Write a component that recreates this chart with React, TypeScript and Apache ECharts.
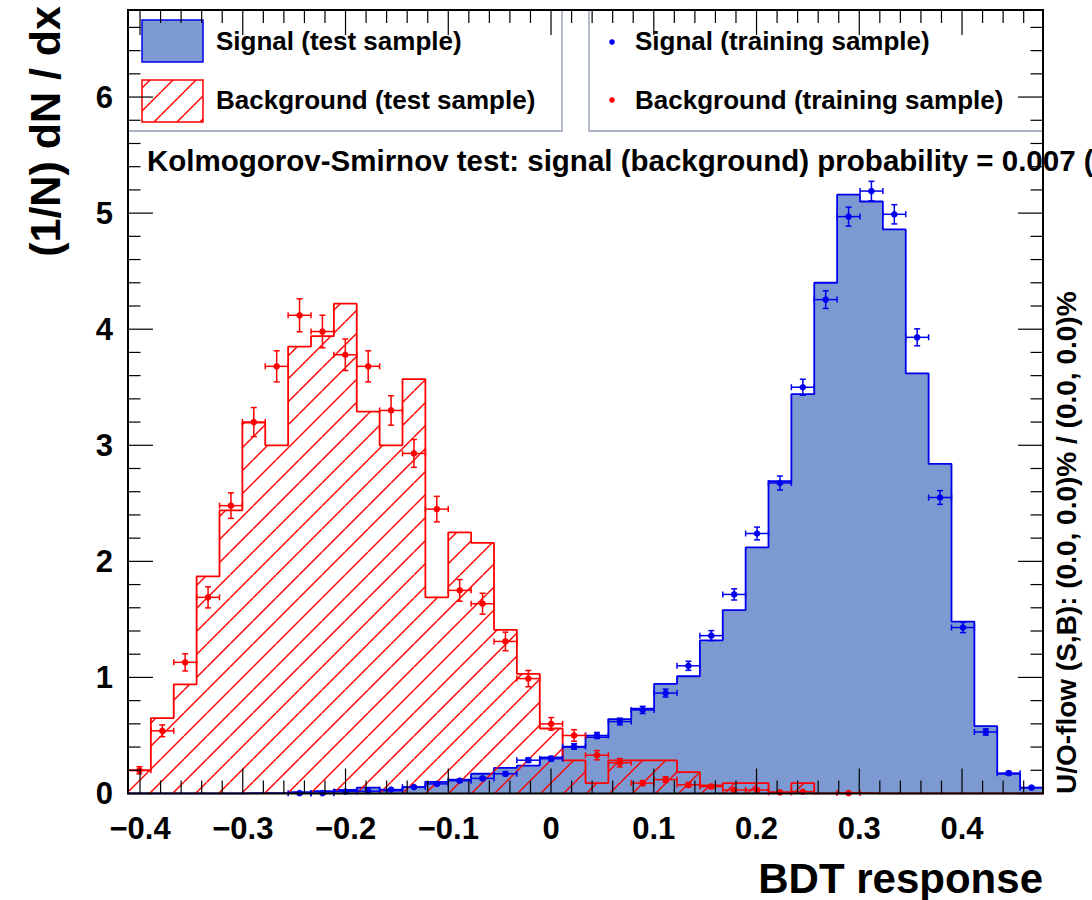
import React, { useEffect, useRef } from "react";
import * as echarts from "echarts";

// ---- axis ranges / binning ----
const X_MIN = -0.4117;
const X_MAX = 0.4788;
const N_BINS = 40;
const Y_MAX = 6.75;

// ---- histogram contents (40 bins) ----
const signalTest = [
  0, 0, 0, 0, 0,
  0.004, 0.004, 0.012, 0.02, 0.03,
  0.05, 0.026, 0.055, 0.10, 0.12,
  0.17, 0.22, 0.24, 0.31, 0.40,
  0.485, 0.64, 0.73, 0.945, 1.01,
  1.32, 1.58, 2.12, 2.69, 3.44,
  4.40, 5.16, 5.10, 4.86, 3.62,
  2.84, 1.48, 0.58, 0.17, 0.05,
];
const backgroundTest = [
  0.2, 0.65, 0.94, 1.87, 2.44,
  3.195, 3.0, 3.85, 3.94, 4.22,
  3.29, 3.0, 3.57, 1.69, 2.25,
  2.16, 1.41, 1.03, 0.56, 0.285,
  0.09, 0.285, 0.285, 0.285, 0.185,
  0.07, 0.09, 0.09, 0.01, 0.09,
  0, 0.005, 0, 0, 0,
  0, 0, 0, 0, 0,
];
const signalTrain = [
  null, null, null, null, null,
  null, null, 0.003, 0.003, 0.017,
  0.02, 0.034, 0.055, 0.083, 0.11,
  0.13, 0.17, 0.287, 0.30, 0.405,
  0.50, 0.62, 0.72, 0.865, 1.10,
  1.36, 1.715, 2.24, 2.675, 3.50,
  4.255, 4.97, 5.19, 4.99, 3.93,
  2.55, 1.43, 0.53, 0.175, 0.05,
];
const signalTrainErr = [
  null, null, null, null, null,
  null, null, 0.002, 0.002, 0.005,
  0.005, 0.007, 0.009, 0.011, 0.012,
  0.013, 0.015, 0.02, 0.02, 0.024,
  0.026, 0.029, 0.031, 0.034, 0.039,
  0.043, 0.048, 0.055, 0.06, 0.069,
  0.076, 0.082, 0.084, 0.083, 0.073,
  0.059, 0.044, 0.027, 0.015, 0.008,
];
const backgroundTrain = [
  0.20, 0.54, 1.13, 1.69, 2.48,
  3.20, 3.68, 4.12, 3.98, 3.78,
  3.68, 3.30, 2.93, 2.45, 1.75,
  1.635, 1.31, 0.99, 0.60, 0.50,
  0.33, 0.265, 0.09, 0.12, 0.075,
  0.06, 0.03, 0.03, 0.01, 0.015,
  null, 0.004, null, null, null,
  null, null, null, null, null,
];
const backgroundTrainErr = [
  0.031, 0.051, 0.074, 0.091, 0.11,
  0.125, 0.134, 0.142, 0.14, 0.136,
  0.134, 0.127, 0.12, 0.11, 0.093,
  0.09, 0.08, 0.07, 0.054, 0.05,
  0.04, 0.036, 0.021, 0.024, 0.019,
  0.017, 0.012, 0.012, 0.007, 0.009,
  null, 0.004, null, null, null,
  null, null, null, null, null,
];

// ---- ticks ----
const xTickValues = [-0.4, -0.3, -0.2, -0.1, 0, 0.1, 0.2, 0.3, 0.4];
const xTickLabels = ["\u22120.4", "\u22120.3", "\u22120.2", "\u22120.1", "0", "0.1", "0.2", "0.3", "0.4"];
const yTickValues = [0, 1, 2, 3, 4, 5, 6];
const yTickLabels = ["0", "1", "2", "3", "4", "5", "6"];
const X_MINOR_STEP = 0.02;
const Y_MINOR_STEP = 0.2;

// ---- texts ----
const legendLeft = ["Signal (test sample)", "Background (test sample)"];
const legendRight = ["Signal (training sample)", "Background (training sample)"];
const ksText = "Kolmogorov-Smirnov test: signal (background) probability = 0.007 (";
const uoText = "U/O-flow (S,B): (0.0, 0.0)% / (0.0, 0.0)%";
const xTitle = "BDT response";
const yTitle = "(1/N) dN / dx";

const SIG_FILL = "#7d99d1";
const SIG_LINE = "#0000ee";
const BKG = "#ff0000";
const FONT = '"Liberation Sans", Arial, Helvetica, sans-serif';

const binW = (X_MAX - X_MIN) / N_BINS;

function stepData(vals: number[]) {
  const d: number[][] = [[X_MIN, 0]];
  vals.forEach((v, i) => d.push([X_MIN + i * binW, v]));
  d.push([X_MAX, vals[vals.length - 1]]);
  d.push([X_MAX, 0]);
  return d;
}

function pointData(vals: (number | null)[], errs: (number | null)[]) {
  const d: number[][] = [];
  vals.forEach((v, i) => {
    if (v == null) return;
    d.push([X_MIN + (i + 0.5) * binW, v, errs[i] ?? 0]);
  });
  return d;
}

function makeHatch() {
  const s = 23;
  const c = document.createElement("canvas");
  c.width = s;
  c.height = s;
  const ctx = c.getContext("2d")!;
  ctx.strokeStyle = BKG;
  ctx.lineWidth = 1.4;
  for (let k = -1; k <= 1; k++) {
    ctx.beginPath();
    ctx.moveTo(k * s, s);
    ctx.lineTo(k * s + s, 0);
    ctx.stroke();
  }
  return { image: c, repeat: "repeat", imageWidth: s, imageHeight: s } as any;
}

function pointsRenderer(color: string) {
  return (params: any, api: any) => {
    const x = api.value(0);
    const y = api.value(1);
    const e = api.value(2);
    const p = api.coord([x, y]);
    const pl = api.coord([x - binW / 2, y]);
    const pr = api.coord([x + binW / 2, y]);
    const pt = api.coord([x, y + e]);
    const pb = api.coord([x, y - e]);
    const st = { stroke: color, lineWidth: 1.5 };
    const cap = 3;
    const ln = (x1: number, y1: number, x2: number, y2: number) => ({
      type: "line",
      shape: { x1, y1, x2, y2 },
      style: st,
    });
    const children: any[] = [
      ln(pl[0], pl[1], pr[0], pr[1]),
      ln(pl[0], pl[1] - cap, pl[0], pl[1] + cap),
      ln(pr[0], pr[1] - cap, pr[0], pr[1] + cap),
      ln(pb[0], pb[1], pt[0], pt[1]),
      ln(pt[0] - cap, pt[1], pt[0] + cap, pt[1]),
      ln(pb[0] - cap, pb[1], pb[0] + cap, pb[1]),
      { type: "circle", shape: { cx: p[0], cy: p[1], r: 3.3 }, style: { fill: color } },
    ];
    return { type: "group", children };
  };
}

function frameRenderer(params: any, api: any) {
  const [x0, y0] = api.coord([X_MIN, 0]);
  const [x1, y1] = api.coord([X_MAX, Y_MAX]);
  const children: any[] = [];
  const tick = { stroke: "#000", lineWidth: 1.2 };
  const ln = (a: number, b: number, c: number, d: number) => ({
    type: "line",
    shape: { x1: a, y1: b, x2: c, y2: d },
    style: tick,
  });
  // x minor ticks
  for (let k = -30; k <= 30; k++) {
    if (k % 5 === 0) continue;
    const v = k * X_MINOR_STEP;
    if (v < X_MIN || v > X_MAX) continue;
    const px = api.coord([v, 0])[0];
    children.push(ln(px, y0, px, y0 - 13), ln(px, y1, px, y1 + 13));
  }
  // x major ticks + labels
  xTickValues.forEach((v, i) => {
    const px = api.coord([v, 0])[0];
    children.push(ln(px, y0, px, y0 - 25), ln(px, y1, px, y1 + 25));
    children.push({
      type: "text",
      x: px,
      y: y0 + 35,
      style: {
        text: xTickLabels[i],
        font: `bold 31px ${FONT}`,
        fill: "#000",
        align: "center",
        verticalAlign: "middle",
        textAlign: "center",
        textVerticalAlign: "middle",
      },
    });
  });
  // y minor ticks
  for (let k = 1; k * Y_MINOR_STEP < Y_MAX; k++) {
    if (k % 5 === 0) continue;
    const py = api.coord([0, k * Y_MINOR_STEP])[1];
    children.push(ln(x0, py, x0 + 12.5, py), ln(x1, py, x1 - 12.5, py));
  }
  yTickValues.forEach((v, i) => {
    const py = api.coord([0, v])[1];
    children.push(ln(x0, py, x0 + 25, py), ln(x1, py, x1 - 25, py));
    children.push({
      type: "text",
      x: x0 - 15,
      y: py,
      style: {
        text: yTickLabels[i],
        font: `bold 31px ${FONT}`,
        fill: "#000",
        align: "right",
        verticalAlign: "middle",
        textAlign: "right",
        textVerticalAlign: "middle",
      },
    });
  });
  children.push({
    type: "rect",
    shape: { x: x0, y: y1, width: x1 - x0, height: y0 - y1 },
    style: { fill: "none", stroke: "#000", lineWidth: 2 },
  });
  return { type: "group", children };
}

function txt(text: string, x: number, y: number, size: number, align: string, extra: any = {}) {
  return {
    type: "text",
    x,
    y,
    z: 20,
    ...extra,
    style: {
      text,
      font: `bold ${size}px ${FONT}`,
      fill: "#000",
      align,
      verticalAlign: "middle",
      textAlign: align,
      textVerticalAlign: "middle",
    },
  };
}

export default function App() {
  const ref = useRef<HTMLDivElement>(null);
  useEffect(() => {
    if (!ref.current) return;
    const chart = echarts.init(ref.current, null, { renderer: "svg" });
    const hatch = makeHatch();
    const hatch2 = makeHatch();
    const option: any = {
      animation: false,
      backgroundColor: "#fff",
      grid: { left: 128, top: 10, width: 915, height: 783.5, show: false },
      xAxis: { type: "value", min: X_MIN, max: X_MAX, show: false },
      yAxis: { type: "value", min: 0, max: Y_MAX, show: false },
      series: [
        {
          type: "line",
          name: legendLeft[0],
          data: stepData(signalTest),
          step: "end",
          symbol: "none",
          z: 2,
          lineStyle: { color: SIG_LINE, width: 1.8 },
          areaStyle: { color: SIG_FILL, opacity: 1 },
        },
        {
          type: "line",
          name: legendLeft[1],
          data: stepData(backgroundTest),
          step: "end",
          symbol: "none",
          z: 3,
          lineStyle: { color: BKG, width: 1.8 },
          areaStyle: { color: hatch, opacity: 1 },
        },
        {
          type: "custom",
          name: legendRight[0],
          z: 4,
          dimensions: ["x", "y", "err"],
          encode: { x: 0, y: 1 },
          data: pointData(signalTrain, signalTrainErr),
          renderItem: pointsRenderer(SIG_LINE),
        },
        {
          type: "custom",
          name: legendRight[1],
          z: 4,
          dimensions: ["x", "y", "err"],
          encode: { x: 0, y: 1 },
          data: pointData(backgroundTrain, backgroundTrainErr),
          renderItem: pointsRenderer(BKG),
        },
        {
          type: "custom",
          name: "frame",
          z: 30,
          data: [[0, 0]],
          renderItem: frameRenderer,
        },
      ],
      graphic: [
        {
          type: "rect",
          z: 10,
          shape: { x: 128, y: 10, width: 434, height: 121 },
          style: { fill: "#fff", stroke: "#8e9ab0", lineWidth: 1.3 },
        },
        {
          type: "rect",
          z: 10,
          shape: { x: 589, y: 10, width: 454, height: 121 },
          style: { fill: "#fff", stroke: "#8e9ab0", lineWidth: 1.3 },
        },
        {
          type: "rect",
          z: 11,
          shape: { x: 142, y: 20, width: 61, height: 42 },
          style: { fill: SIG_FILL, stroke: SIG_LINE, lineWidth: 1.5 },
        },
        {
          type: "rect",
          z: 11,
          shape: { x: 142, y: 80, width: 61, height: 42 },
          style: { fill: hatch2, stroke: BKG, lineWidth: 1.5 },
        },
        txt(legendLeft[0], 216, 41, 26, "left"),
        txt(legendLeft[1], 216, 100, 26, "left"),
        {
          type: "circle",
          z: 11,
          shape: { cx: 612, cy: 42, r: 2.8 },
          style: { fill: SIG_LINE },
        },
        {
          type: "circle",
          z: 11,
          shape: { cx: 612, cy: 100, r: 2.8 },
          style: { fill: BKG },
        },
        txt(legendRight[0], 635, 41, 26, "left"),
        txt(legendRight[1], 635, 100, 26, "left"),
        txt(ksText, 147, 160, 29.5, "left"),
        txt(xTitle, 1043, 878, 42, "right"),
        txt(yTitle, 45, 6, 43, "right", { rotation: Math.PI / 2 }),
        txt(uoText, 1066, 794, 28, "left", { rotation: Math.PI / 2 }),
      ],
    };
    chart.setOption(option);
    return () => chart.dispose();
  }, []);
  return (
    <div
      ref={ref}
      style={{ position: "fixed", left: 0, top: 0, width: 1092, height: 900 }}
    />
  );
}
